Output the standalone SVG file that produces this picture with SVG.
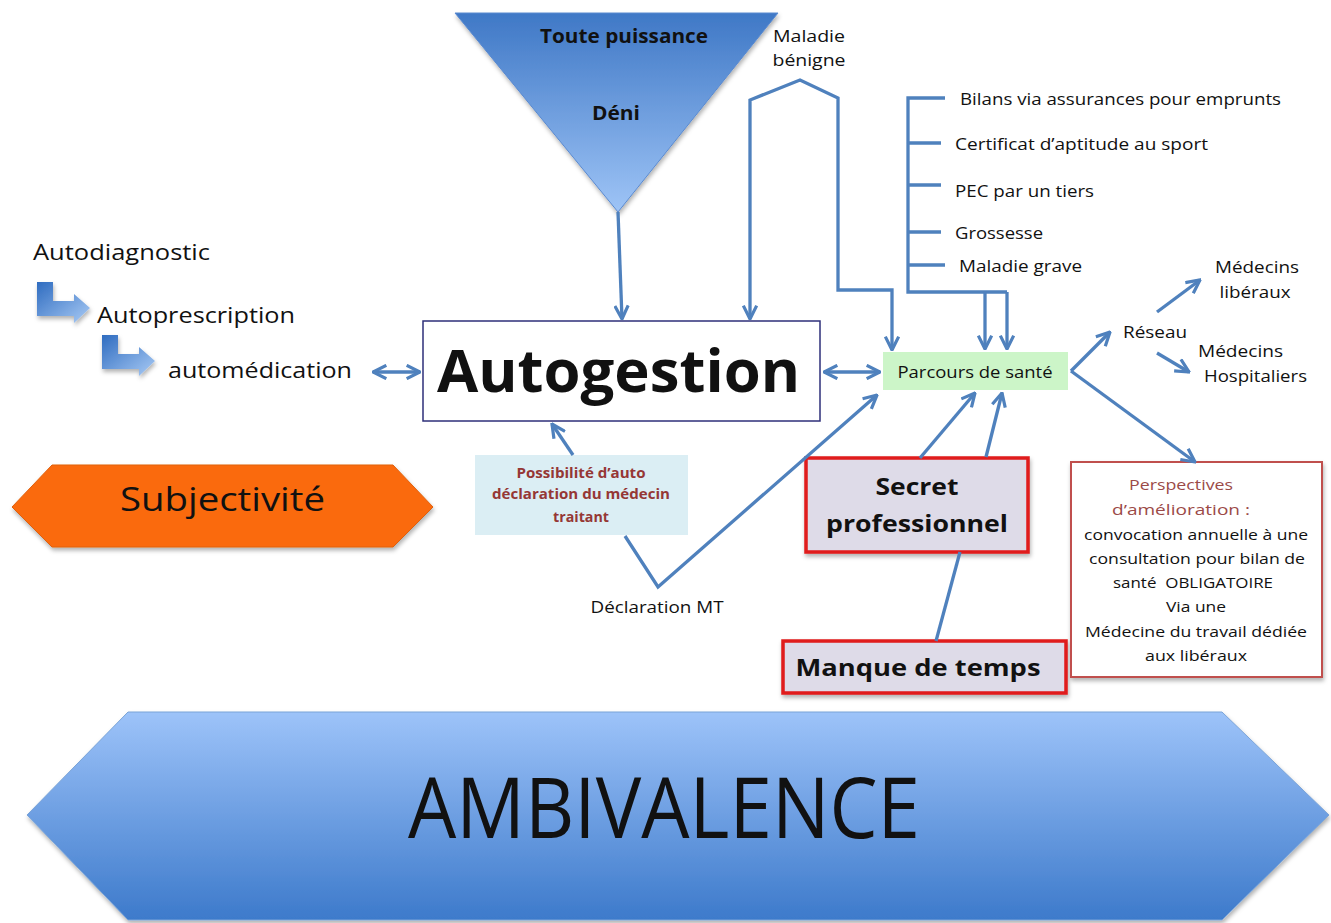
<svg xmlns="http://www.w3.org/2000/svg" width="1331" height="923" viewBox="0 0 1331 923">
<defs>
<style>
text{font-family:"Open Sans","Noto Sans","DejaVu Sans",sans-serif;fill:#111}
.c{stroke:#4f81bd;stroke-width:3.3;fill:none;stroke-linejoin:miter}
.big{font-size:22px}
.b{font-weight:bold}
.red{stroke:#e01a1a;stroke-width:3.5;fill:#dedbe8}
</style>
<linearGradient id="gTri" x1="0" y1="0" x2="0" y2="1">
<stop offset="0" stop-color="#3f78c6"/><stop offset="1" stop-color="#9ec4f6"/>
</linearGradient>
<linearGradient id="gAmb" x1="0" y1="0" x2="0" y2="1">
<stop offset="0" stop-color="#9dc3f9"/><stop offset="1" stop-color="#3d7acb"/>
</linearGradient>
<linearGradient id="gL" x1="0" y1="0" x2="1" y2="1">
<stop offset="0" stop-color="#2f6cc0"/><stop offset="1" stop-color="#a9cbf5"/>
</linearGradient>
<filter id="sh" x="-10%" y="-10%" width="120%" height="130%">
<feDropShadow dx="1" dy="3" stdDeviation="2" flood-color="#000" flood-opacity="0.3"/>
</filter>
<marker id="ah" viewBox="0 0 12 12" refX="11" refY="6" markerWidth="16" markerHeight="16" markerUnits="userSpaceOnUse" orient="auto-start-reverse">
<path d="M1,1 L11,6 L1,11" fill="none" stroke="#4f81bd" stroke-width="2.4"/>
</marker>
</defs>
<rect width="1331" height="923" fill="#fff"/>

<g id="toute-puissance">
<polygon points="455,13 778,13 618,212" fill="url(#gTri)" stroke="#5a8ad0" stroke-width="1" filter="url(#sh)"/>
<text x="624" y="43" text-anchor="middle" class="b" font-size="19" textLength="168" lengthAdjust="spacingAndGlyphs">Toute puissance</text>
<text x="616" y="120" text-anchor="middle" class="b" font-size="19" textLength="48" lengthAdjust="spacingAndGlyphs">Déni</text>
</g>

<g id="maladie-benigne">
<text x="809" y="42" text-anchor="middle" font-size="16" textLength="72" lengthAdjust="spacingAndGlyphs">Maladie</text>
<text x="809" y="66" text-anchor="middle" font-size="16" textLength="73" lengthAdjust="spacingAndGlyphs">bénigne</text>
</g>

<g id="autodiagnostic">
<text x="33" y="260" class="big" textLength="177" lengthAdjust="spacingAndGlyphs">Autodiagnostic</text>
<path d="M37,282 H53 V301 H74 V294 L90,308 L74,323 V316 H37 Z" fill="url(#gL)" filter="url(#sh)"/>
<text x="97" y="323" class="big" textLength="198" lengthAdjust="spacingAndGlyphs">Autoprescription</text>
<path d="M102,335 H118 V354 H139 V347 L155,361 L139,376 V369 H102 Z" fill="url(#gL)" filter="url(#sh)"/>
<text x="168" y="378" class="big" textLength="184" lengthAdjust="spacingAndGlyphs">automédication</text>
</g>

<g id="autogestion">
<rect x="423" y="321" width="397" height="100" fill="#fff" stroke="#2e2f7a" stroke-width="1.5"/>
<text x="437" y="392" class="b" font-size="59" textLength="363" lengthAdjust="spacingAndGlyphs">Autogestion</text>
</g>

<g id="subjectivite">
<polygon points="12,507 52,465 393,465 433,507 393,547 52,547" fill="#fa6a0c" stroke="#e0600a" stroke-width="1" filter="url(#sh)"/>
<text x="120" y="511" font-size="33" fill="#2a1a12" textLength="205" lengthAdjust="spacingAndGlyphs">Subjectivité</text>
</g>

<g id="possibilite">
<rect x="475" y="455" width="213" height="80" fill="#dbeef4"/>
<text x="581" y="478" text-anchor="middle" class="b" font-size="13.5" style="fill:#953735" textLength="129" lengthAdjust="spacingAndGlyphs">Possibilité d’auto</text>
<text x="581" y="499" text-anchor="middle" class="b" font-size="13.5" style="fill:#953735" textLength="178" lengthAdjust="spacingAndGlyphs">déclaration du médecin</text>
<text x="581" y="522" text-anchor="middle" class="b" font-size="13.5" style="fill:#953735" textLength="56" lengthAdjust="spacingAndGlyphs">traitant</text>
</g>

<g id="declaration-mt">
<text x="657" y="613" text-anchor="middle" font-size="16" textLength="133" lengthAdjust="spacingAndGlyphs">Déclaration MT</text>
</g>

<g id="parcours">
<rect x="883" y="352" width="185" height="38" fill="#ccf5c8"/>
<text x="975" y="378" text-anchor="middle" font-size="16" textLength="155" lengthAdjust="spacingAndGlyphs">Parcours de santé</text>
</g>

<g id="bilans"><text x="960" y="105" font-size="16" textLength="321" lengthAdjust="spacingAndGlyphs">Bilans via assurances pour emprunts</text></g>
<g id="certificat"><text x="955" y="150" font-size="16" textLength="253" lengthAdjust="spacingAndGlyphs">Certificat d’aptitude au sport</text></g>
<g id="pec"><text x="955" y="197" font-size="16" textLength="139" lengthAdjust="spacingAndGlyphs">PEC par un tiers</text></g>
<g id="grossesse"><text x="955" y="239" font-size="16" textLength="88" lengthAdjust="spacingAndGlyphs">Grossesse</text></g>
<g id="maladie-grave"><text x="959" y="272" font-size="16" textLength="123" lengthAdjust="spacingAndGlyphs">Maladie grave</text></g>

<g id="reseau"><text x="1123" y="338" font-size="16" textLength="64" lengthAdjust="spacingAndGlyphs">Réseau</text></g>
<g id="medecins-liberaux">
<text x="1257" y="273" text-anchor="middle" font-size="16" textLength="84" lengthAdjust="spacingAndGlyphs">Médecins</text>
<text x="1255" y="298" text-anchor="middle" font-size="16" textLength="71" lengthAdjust="spacingAndGlyphs">libéraux</text>
</g>
<g id="medecins-hospitaliers">
<text x="1198" y="357" font-size="16" textLength="85" lengthAdjust="spacingAndGlyphs">Médecins</text>
<text x="1204" y="382" font-size="16" textLength="103" lengthAdjust="spacingAndGlyphs">Hospitaliers</text>
</g>

<g id="secret">
<rect x="806" y="458" width="222" height="94" class="red" filter="url(#sh)"/>
<text x="917" y="495" text-anchor="middle" class="b" font-size="23" textLength="83" lengthAdjust="spacingAndGlyphs">Secret</text>
<text x="917" y="532" text-anchor="middle" class="b" font-size="23" textLength="182" lengthAdjust="spacingAndGlyphs">professionnel</text>
</g>

<g id="manque">
<rect x="783" y="641" width="283" height="52" class="red" filter="url(#sh)"/>
<text x="918" y="676" text-anchor="middle" class="b" font-size="23" textLength="245" lengthAdjust="spacingAndGlyphs">Manque de temps</text>
</g>

<g id="perspectives">
<rect x="1071" y="462" width="251" height="215" fill="#fff" stroke="#c0504d" stroke-width="2" filter="url(#sh)"/>
<text x="1181" y="490" text-anchor="middle" font-size="15" style="fill:#9b4a47" textLength="104" lengthAdjust="spacingAndGlyphs">Perspectives</text>
<text x="1181" y="515" text-anchor="middle" font-size="15" style="fill:#9b4a47" textLength="138" lengthAdjust="spacingAndGlyphs">d’amélioration :</text>
<text x="1196" y="540" text-anchor="middle" font-size="14.5" textLength="224" lengthAdjust="spacingAndGlyphs">convocation annuelle à une</text>
<text x="1197" y="564" text-anchor="middle" font-size="14.5" textLength="216" lengthAdjust="spacingAndGlyphs">consultation pour bilan de</text>
<text x="1193" y="588" text-anchor="middle" font-size="14.5" xml:space="preserve" textLength="160" lengthAdjust="spacingAndGlyphs">santé  OBLIGATOIRE</text>
<text x="1196" y="612" text-anchor="middle" font-size="14.5" textLength="60" lengthAdjust="spacingAndGlyphs">Via une</text>
<text x="1196" y="637" text-anchor="middle" font-size="14.5" textLength="222" lengthAdjust="spacingAndGlyphs">Médecine du travail dédiée</text>
<text x="1196" y="661" text-anchor="middle" font-size="14.5" textLength="102" lengthAdjust="spacingAndGlyphs">aux libéraux</text>
</g>

<g id="ambivalence">
<polygon points="27,815 128,712 1222,712 1329,815 1222,920 128,920" fill="url(#gAmb)" stroke="#7aa4d8" stroke-width="1" filter="url(#sh)"/>
<text x="408" y="838" font-size="84" textLength="512" lengthAdjust="spacingAndGlyphs">AMBIVALENCE</text>
</g>

<g id="connectors">
<line class="c" x1="618" y1="212" x2="622" y2="319" marker-end="url(#ah)"/>
<path class="c" d="M750,319 V100 L800,80 L838,98 V290 H892 V350" marker-start="url(#ah)" marker-end="url(#ah)"/>
<path class="c" stroke-width="4" d="M945,98 H908 V292 H1007 M908,143 H941 M908,185 H941 M908,232 H941 M908,265 H945"/>
<line class="c" x1="985" y1="292" x2="985" y2="349" marker-end="url(#ah)"/>
<line class="c" x1="1007" y1="292" x2="1007" y2="349" marker-end="url(#ah)"/>
<line class="c" x1="373" y1="372" x2="420" y2="372" marker-start="url(#ah)" marker-end="url(#ah)"/>
<line class="c" x1="824" y1="372" x2="880" y2="372" marker-start="url(#ah)" marker-end="url(#ah)"/>
<line class="c" x1="573" y1="455" x2="552" y2="424" marker-end="url(#ah)"/>
<polyline class="c" points="625,536 658,587 877,395" marker-end="url(#ah)"/>
<line class="c" x1="920" y1="458" x2="975" y2="393" marker-end="url(#ah)"/>
<line class="c" x1="986" y1="457" x2="1002" y2="393" marker-end="url(#ah)"/>
<line class="c" x1="936" y1="641" x2="960" y2="552"/>
<line class="c" x1="1071" y1="371" x2="1110" y2="332" marker-end="url(#ah)"/>
<line class="c" x1="1071" y1="371" x2="1195" y2="462" marker-end="url(#ah)"/>
<line class="c" x1="1157" y1="312" x2="1200" y2="280" marker-end="url(#ah)"/>
<line class="c" x1="1157" y1="353" x2="1189" y2="372" marker-end="url(#ah)"/>
</g>
</svg>
